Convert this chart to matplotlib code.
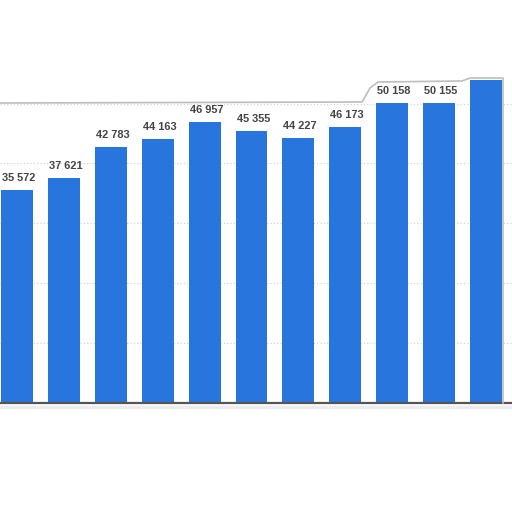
import matplotlib.pyplot as plt
from matplotlib.lines import Line2D

values = [35572, 37621, 42783, 44163, 46957, 45355, 44227, 46173, 50158, 50155, 53950]
labels = ["35 572", "37 621", "42 783", "44 163", "46 957", "45 355",
          "44 227", "46 173", "50 158", "50 155", ""]
x = list(range(len(values)))

fig = plt.figure(figsize=(5.12, 5.12), dpi=100)
ax = fig.add_axes([0, 0, 1, 1])

ax.bar(x, values, width=0.68, color="#2876dd", zorder=3)
for xi, v, lab in zip(x, values, labels):
    ax.text(xi + 0.04, v + 1500, lab, ha="center", va="baseline", fontsize=7.9,
            fontweight="bold", family="Liberation Sans", color="#444444", zorder=4)

ax.set_xlim(-0.3625, 10.554)
ax.set_ylim(-18200, 67300)
ax.set_yticks([10000, 20000, 30000, 40000, 50000])
ax.yaxis.grid(True, linestyle=(0, (1, 2)), color="#cccccc", linewidth=0.8, zorder=0)
ax.axhline(0, color="#555555", linewidth=1.6, zorder=5)
for s in ax.spines.values():
    s.set_visible(False)
ax.tick_params(left=False, bottom=False, labelleft=False, labelbottom=False)

# torn frame edge of the screenshot
fx = [0, 362, 370, 378, 462, 470, 503, 503]
fy = [103, 102, 88, 82, 81, 78, 78, 403]
fig.add_artist(Line2D([p / 512 for p in fx], [1 - p / 512 for p in fy],
                      transform=fig.transFigure, color="#bdbdbd", linewidth=1.2))
fig.add_artist(Line2D([0, 1], [1 - 407 / 512, 1 - 407 / 512],
                      transform=fig.transFigure, color="#ececec", linewidth=2.5))

fig.savefig("out.png", dpi=100)
